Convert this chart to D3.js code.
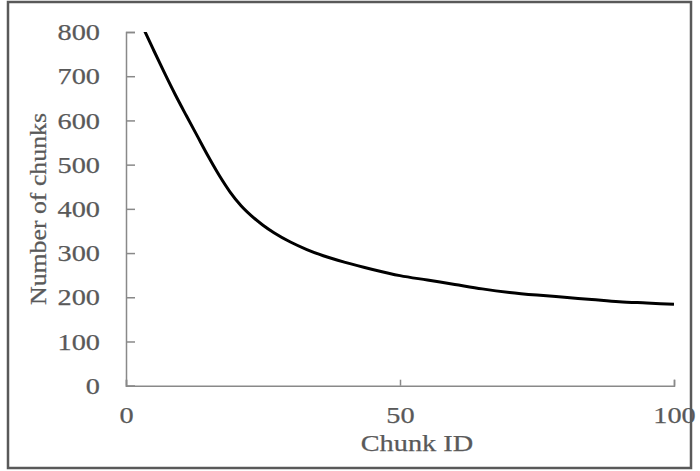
<!DOCTYPE html>
<html>
<head>
<meta charset="utf-8">
<script src="https://cdn.jsdelivr.net/npm/d3@7"></script>
<style>
  body { margin: 0; background: white; }
  text { font-family: "Liberation Serif", "Times New Roman", serif; fill: #595959; }
</style>
</head>
<body>
<svg id="mainSvg" width="700" height="471"></svg>
<script>
// chart values
var chunkIds = [3, 5, 7, 9, 11, 13, 15, 17, 19, 21, 23, 25, 27, 30, 33, 36, 40, 45, 50, 55, 60, 65, 70, 75, 80, 85, 90, 95, 100];
var chunkCounts = [813, 760, 708, 658, 611, 565, 519, 476, 438, 407, 383, 363, 346, 325, 308, 294, 279, 263, 249, 239, 229, 219, 211, 205, 200, 195, 190, 187, 184];
var xTicks = [0, 50, 100];
var yTicks = [0, 100, 200, 300, 400, 500, 600, 700, 800];

var svg = d3.select("#mainSvg");
var stretch = 1.18; // text in the picture is a bit wide

svg.append("rect")
  .attr("x", 8)
  .attr("y", 2)
  .attr("width", 683)
  .attr("height", 466)
  .style("fill", "none")
  .style("stroke", "#595959")
  .style("stroke-width", 2.5);

var x = d3.scaleLinear().domain([0, 100]).range([126, 674]);
var y = d3.scaleLinear().domain([0, 800]).range([385.7, 32]);

// keep the line inside the plot area (it starts above 800)
svg.append("clipPath")
  .attr("id", "plotClip")
  .append("rect")
  .attr("x", x(0))
  .attr("y", y(800))
  .attr("width", x(100) - x(0) + 3)
  .attr("height", y(0) - y(800));

var xAxis = svg.append("g")
  .attr("transform", "translate(0," + y(0) + ")")
  .call(d3.axisBottom(x).tickValues(xTicks).tickSize(-6).tickPadding(24).tickFormat(d3.format("d")));

var yAxis = svg.append("g")
  .attr("transform", "translate(" + x(0) + ",0)")
  .call(d3.axisLeft(y).tickValues(yTicks).tickSize(-9).tickPadding(26).tickFormat(d3.format("d")));

[xAxis, yAxis].forEach(function(ax){
  ax.select(".domain").style("stroke", "#898989").style("stroke-width", 1.5);
  ax.selectAll(".tick line").style("stroke", "#898989").style("stroke-width", 1.5);
  ax.selectAll("text")
    .attr("font-size", 24)
    .style("font-family", "'Liberation Serif', serif")
    .style("fill", "#595959")
    .style("stroke", "#595959")
    .style("stroke-width", 0.25);
});
// x labels: baseline instead of hanging
xAxis.selectAll(".tick text").attr("dy", "0.32em").attr("y", 30);

function widen(sel){
  sel.each(function(){
    var len = this.getComputedTextLength();
    d3.select(this).attr("textLength", len*stretch).attr("lengthAdjust", "spacingAndGlyphs");
  });
}
widen(xAxis.selectAll(".tick text"));
widen(yAxis.selectAll(".tick text"));

var line = d3.line()
  .x(function(d, i){ return x(chunkIds[i]); })
  .y(function(d){ return y(d); })
  .curve(d3.curveMonotoneX);

svg.append("path")
  .datum(chunkCounts)
  .attr("d", line)
  .attr("clip-path", "url(#plotClip)")
  .style("fill", "none")
  .style("stroke", "black")
  .style("stroke-width", 3);

var xTitle = svg.append("text")
  .attr("x", 417)
  .attr("y", 450.5)
  .attr("text-anchor", "middle")
  .attr("font-size", 24)
  .style("stroke", "#595959")
  .style("stroke-width", 0.25)
  .text("Chunk ID");
widen(xTitle);

svg.append("text")
  .attr("transform", "translate(46,209) rotate(-90)")
  .attr("text-anchor", "middle")
  .attr("font-size", 24)
  .attr("textLength", 192)
  .attr("lengthAdjust", "spacingAndGlyphs")
  .style("stroke", "#595959")
  .style("stroke-width", 0.25)
  .text("Number of chunks");
</script>
</body>
</html>
